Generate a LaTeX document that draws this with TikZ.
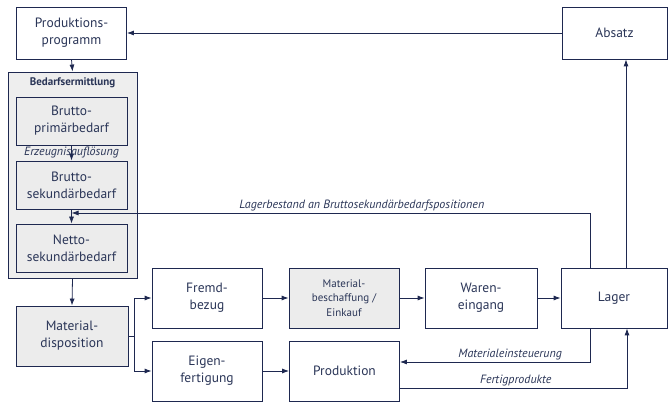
\documentclass[tikz,border=0pt]{standalone}
\usepackage{fontspec}
\setmainfont{PT Sans}
\usepackage{tikz}
\usetikzlibrary{arrows.meta, positioning, calc}
\definecolor{lineblue}{RGB}{30, 40, 80}
\definecolor{textblue}{RGB}{42, 53, 87}
\definecolor{boxgray}{RGB}{236, 236, 236}

\begin{document}
\begin{tikzpicture}[x=1pt, y=1pt,
    font=\fontsize{13.5}{17}\selectfont, text=textblue,
    box/.style={draw=lineblue, line width=0.8pt, align=center, inner sep=0pt,
        minimum width=110pt, minimum height=60pt},
    graybox/.style={box, fill=boxgray},
    flow/.style={draw=lineblue, line width=0.8pt, -{Latex[length=7pt,width=5pt]}},
    flowlabel/.style={font=\fontsize{12}{14}\selectfont\itshape, inner sep=2pt}]
\useasboundingbox (0,0) rectangle (668,403);

% Bedarfsermittlung
\node[graybox, minimum width=129pt, minimum height=206pt, fill=boxgray!90!white] (bedarf) at (72.5,228) {};
\node[anchor=north, inner sep=0pt, font=\fontsize{11}{13}\selectfont\bfseries] (bedarftitle) at ([yshift=-6pt]bedarf.north) {Bedarfsermittlung};
\node[graybox, minimum width=111pt, minimum height=48pt] (bprim) at (71.5,282) {Brutto-\\primärbedarf};
\node[graybox, minimum width=111pt, minimum height=48pt] (bsek) at (71.5,218) {Brutto-\\sekundärbedarf};
\node[graybox, minimum width=111pt, minimum height=48pt] (nsek) at (71.5,155) {Netto-\\sekundärbedarf};

\node[box, minimum height=52pt] (prog) at (71.5,370) {Produktions-\\programm};
\node[box, minimum width=105pt, minimum height=52pt] (absatz) at (614.5,370) {Absatz};

\node[graybox, minimum width=112pt] (dispo) at (72,67) {Material-\\disposition};
\node[box] (fremd) at (207,105) {Fremd-\\bezug};
\node[box] (eigen) at (207,32) {Eigen-\\fertigung};
\node[graybox, font=\fontsize{11}{14.5}\selectfont] (beschaff) at (344,105) {Material-\\beschaffung /\\Einkauf};
\node[box] (prod) at (344.5,32) {Produktion};
\node[box, minimum width=112pt] (waren) at (481,105) {Waren-\\eingang};
\node[box, minimum width=106pt] (lager) at (614,105) {Lager};

\coordinate (merge) at (71.5,190);
\coordinate (split) at (134,67);

\draw[flow] (absatz.west) -- (prog.east);
\draw[flow] (prog.south) -- (bedarf.north);
\draw[flow] (bprim.south) -- node[flowlabel] {Erzeugnisauflösung} (bsek.north);
\draw[flow] (bsek.south) -- (nsek.north);
\draw[flow] ([xshift=-24pt]lager.north) |- node[flowlabel, above, pos=0.72] {Lagerbestand an Bruttosekundärbedarfspositionen} (merge);
\draw[flow] ([xshift=12pt]lager.north) -- ([xshift=11.5pt]absatz.south);
\draw[flow] (bedarf.south) -- (dispo.north);
\draw[draw=lineblue, line width=0.8pt] (dispo.east) -- (split);
\draw[flow] (split) |- (fremd.west);
\draw[flow] (split) |- (eigen.west);
\draw[flow] (fremd) -- (beschaff);
\draw[flow] (beschaff) -- (waren);
\draw[flow] (waren) -- (lager);
\draw[flow] (eigen) -- (prod);
\draw[flow] ([xshift=-24pt]lager.south) |- node[flowlabel, above, pos=0.71] {Materialeinsteuerung} ([yshift=9pt]prod.east);
\draw[flow] ([yshift=-17pt]prod.east) -| node[flowlabel, above, pos=0.255] {Fertigprodukte} ([xshift=13pt]lager.south);
\end{tikzpicture}
\end{document}
